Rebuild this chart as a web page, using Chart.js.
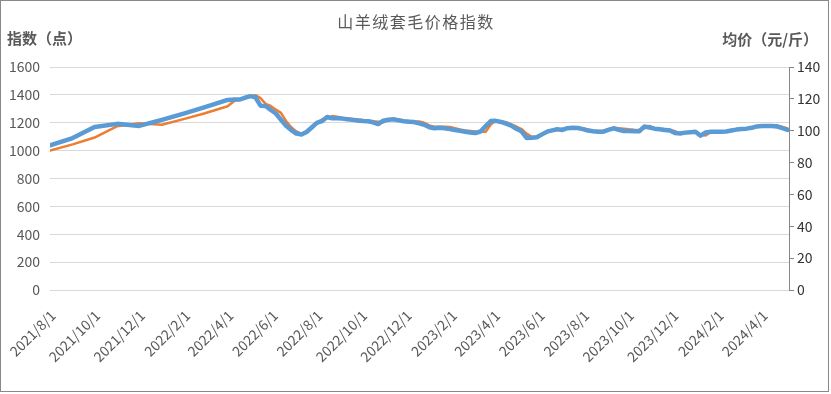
<!DOCTYPE html>
<html>
<head>
<meta charset="utf-8">
<script src="https://cdn.jsdelivr.net/npm/chart.js@4.4.1/dist/chart.umd.min.js"></script>
<style>
  html, body { margin: 0; padding: 0; background: #fff; }
  #wrap { width: 831px; height: 394px; }
</style>
</head>
<body>
<div id="wrap"><canvas id="chart" width="831" height="394"></canvas></div>
<script>
const chartTitle = '山羊绒套毛价格指数';
const leftTitle = '指数（点）';
const rightTitle = '均价（元/斤）';

// monthly at first, weekly from April 2022
const dates = [
  '2021-08-01', '2021-09-01', '2021-10-01', '2021-11-01', '2021-12-01',
  '2022-01-01', '2022-02-01', '2022-03-01', '2022-04-01',
  '2022-04-11', '2022-04-18', '2022-04-25', '2022-05-02', '2022-05-09', '2022-05-16', '2022-05-23', '2022-05-30',
  '2022-06-06', '2022-06-13', '2022-06-20', '2022-06-27', '2022-07-04', '2022-07-11', '2022-07-18', '2022-07-25',
  '2022-08-01', '2022-08-08', '2022-08-15', '2022-08-22', '2022-08-29', '2022-09-05', '2022-09-12', '2022-09-19',
  '2022-09-26', '2022-10-03', '2022-10-10', '2022-10-17', '2022-10-24', '2022-10-31', '2022-11-07', '2022-11-14',
  '2022-11-21', '2022-11-28', '2022-12-05', '2022-12-12', '2022-12-19', '2022-12-26',
  '2023-01-02', '2023-01-09', '2023-01-16', '2023-01-23', '2023-01-30', '2023-02-06', '2023-02-13', '2023-02-20',
  '2023-02-27', '2023-03-06', '2023-03-13', '2023-03-20', '2023-03-27', '2023-04-03', '2023-04-10', '2023-04-17',
  '2023-04-24', '2023-05-01', '2023-05-08', '2023-05-15', '2023-05-22', '2023-05-29', '2023-06-05', '2023-06-12',
  '2023-06-19', '2023-06-26', '2023-07-03', '2023-07-10', '2023-07-17', '2023-07-24', '2023-07-31', '2023-08-07',
  '2023-08-14', '2023-08-21', '2023-08-28', '2023-09-04', '2023-09-11', '2023-09-18', '2023-09-25', '2023-10-02',
  '2023-10-09', '2023-10-16', '2023-10-23', '2023-10-30', '2023-11-06', '2023-11-13', '2023-11-20', '2023-11-27',
  '2023-12-04', '2023-12-11', '2023-12-18', '2023-12-25',
  '2024-01-01', '2024-01-08', '2024-01-15', '2024-01-22', '2024-01-29', '2024-02-05', '2024-02-12', '2024-02-19',
  '2024-02-26', '2024-03-04', '2024-03-11', '2024-03-18', '2024-03-25', '2024-04-01', '2024-04-08', '2024-04-15',
  '2024-04-22', '2024-04-29', '2024-05-06'
];

// 指数（点）
const indexValues = [
  1000, 1045, 1094, 1175, 1196, 1186, 1228, 1268, 1318,
  1360, 1365, 1374, 1388, 1398, 1377, 1336, 1321, 1294, 1271,
  1212, 1167, 1138, 1121, 1135, 1166, 1200, 1223, 1233, 1248,
  1243, 1235, 1230, 1227, 1223, 1219, 1215, 1211, 1208, 1203,
  1225, 1225, 1225, 1215, 1212, 1210, 1209, 1200,
  1181, 1172, 1172, 1172, 1169, 1160, 1151, 1145, 1141, 1137,
  1136, 1136, 1187, 1217, 1210, 1204, 1189, 1173, 1155, 1122,
  1099, 1097, 1112, 1133, 1141, 1150, 1157, 1163, 1165, 1165,
  1160, 1151, 1141, 1141, 1141, 1153, 1165, 1161, 1157, 1153,
  1150, 1148, 1160, 1178, 1161, 1157, 1154, 1150, 1140, 1122,
  1127, 1133,
  1138, 1115, 1108, 1134, 1135, 1137, 1138, 1146, 1153, 1156,
  1160, 1165, 1174, 1178, 1180, 1181, 1181, 1170, 1159
];

// 均价（元/斤）
const priceValues = [
  90.8, 95.4, 102.3, 104.3, 103.0, 106.8, 110.9, 114.8, 119.3,
  119.6, 119.6, 120.8, 121.7, 121.0, 115.7, 115.5, 113.0, 110.8, 106.9,
  103.1, 100.4, 98.2, 97.6, 99.2, 102.0, 104.9, 106.0, 108.6, 107.8,
  107.8, 107.6, 107.2, 106.8, 106.4, 106.1, 105.9, 105.3, 104.2, 106.3,
  106.9, 107.2, 106.5, 106.0, 105.7, 105.4, 104.6, 103.7,
  102.2, 101.6, 101.8, 101.6, 101.0, 100.4, 99.9, 99.4, 98.9, 98.5,
  99.5, 102.9, 106.1, 106.2, 105.5, 104.4, 103.2, 101.2, 99.6, 95.5,
  95.6, 95.9, 97.7, 99.4, 100.2, 100.9, 100.5, 101.6, 101.9, 101.7,
  101.0, 100.1, 99.7, 99.4, 99.4, 100.5, 101.5, 100.6, 99.8, 99.8,
  99.7, 99.6, 102.6, 102.0, 101.3, 100.9, 100.5, 100.1, 98.6, 98.3,
  98.8, 99.1,
  99.4, 96.9, 98.9, 99.4, 99.4, 99.4, 99.5, 100.1, 100.7, 101.1,
  101.3, 101.8, 102.7, 103.0, 103.0, 103.0, 102.6, 101.6, 100.5
];

const xTickLabels = [
  '2021/8/1', '2021/10/1', '2021/12/1', '2022/2/1', '2022/4/1', '2022/6/1',
  '2022/8/1', '2022/10/1', '2022/12/1', '2023/2/1', '2023/4/1', '2023/6/1',
  '2023/8/1', '2023/10/1', '2023/12/1', '2024/2/1', '2024/4/1'
];

const FONT = '"Noto Sans CJK SC", "Noto Sans", sans-serif';

function dayOf(s) {
  const [y, m, d] = s.split(/[-\/]/).map(Number);
  return (Date.UTC(y, m - 1, d) - Date.UTC(2021, 7, 1)) / 86400000;
}
const xMax = dayOf('2024-05-08');

const toPoints = values => values.map((v, i) => ({ x: dayOf(dates[i]), y: v }));

// titles and outer frame
const titlesPlugin = {
  id: 'titles',
  afterDraw(chart) {
    const ctx = chart.ctx;
    ctx.save();
    ctx.fillStyle = '#595959';
    ctx.textBaseline = 'middle';
    ctx.font = `16px ${FONT}`;
    ctx.letterSpacing = '1.5px';
    ctx.textAlign = 'center';
    ctx.fillText(chartTitle, 416, 22);
    ctx.letterSpacing = '0px';
    ctx.font = `bold 15px ${FONT}`;
    ctx.textAlign = 'left';
    ctx.fillText(leftTitle, 7, 38);
    ctx.textAlign = 'right';
    ctx.fillText(rightTitle, 818, 39);
    ctx.strokeStyle = '#898989';
    ctx.lineWidth = 1;
    ctx.strokeRect(0.5, 0.5, 828, 391);
    ctx.restore();
  }
};

new Chart(document.getElementById('chart'), {
  type: 'line',
  data: {
    datasets: [
      {
        label: '均价',
        data: toPoints(priceValues),
        yAxisID: 'y1',
        borderColor: '#5b9bd5',
        borderWidth: 4.5,
        pointRadius: 0,
        tension: 0,
        borderJoinStyle: 'round',
        borderCapStyle: 'round',
        order: 0
      },
      {
        label: '指数',
        data: toPoints(indexValues),
        yAxisID: 'y',
        borderColor: '#ed7d31',
        borderWidth: 2.5,
        pointRadius: 0,
        tension: 0,
        borderJoinStyle: 'round',
        borderCapStyle: 'round',
        order: 1
      }
    ]
  },
  options: {
    responsive: false,
    animation: false,
    layout: { padding: { top: 67, left: 0, right: 0, bottom: 0 } },
    plugins: {
      legend: { display: false },
      tooltip: { enabled: false },
      title: { display: false }
    },
    scales: {
      x: {
        type: 'linear',
        min: 0,
        max: xMax,
        afterBuildTicks: axis => {
          axis.ticks = xTickLabels.map(l => ({ value: dayOf(l) }));
        },
        afterFit: axis => {
          axis.height = 104;
          axis.paddingLeft = 0;
          axis.paddingRight = 0;
        },
        grid: { display: false, drawTicks: false },
        border: { display: false },
        ticks: {
          autoSkip: false,
          minRotation: 45,
          maxRotation: 45,
          padding: 17,
          labelOffset: 3,
          color: '#595959',
          font: { family: FONT, size: 14 },
          callback: (value, i) => xTickLabels[i]
        }
      },
      y: {
        position: 'left',
        min: 0,
        max: 1600,
        afterFit: axis => { axis.width = 50; },
        grid: { color: '#d9d9d9', drawTicks: false },
        border: { display: false },
        ticks: {
          stepSize: 200,
          padding: 10,
          color: '#595959',
          font: { family: FONT, size: 14 },
          callback: value => String(value)
        }
      },
      y1: {
        position: 'right',
        min: 0,
        max: 140,
        afterFit: axis => { axis.width = 42; },
        grid: { drawOnChartArea: false, drawTicks: true, tickLength: 5, color: '#868686' },
        border: { display: true, color: '#868686' },
        ticks: {
          stepSize: 20,
          padding: 3,
          color: '#333333',
          font: { family: FONT, size: 14 },
          callback: value => String(value)
        }
      }
    }
  },
  plugins: [titlesPlugin]
});
</script>
</body>
</html>
